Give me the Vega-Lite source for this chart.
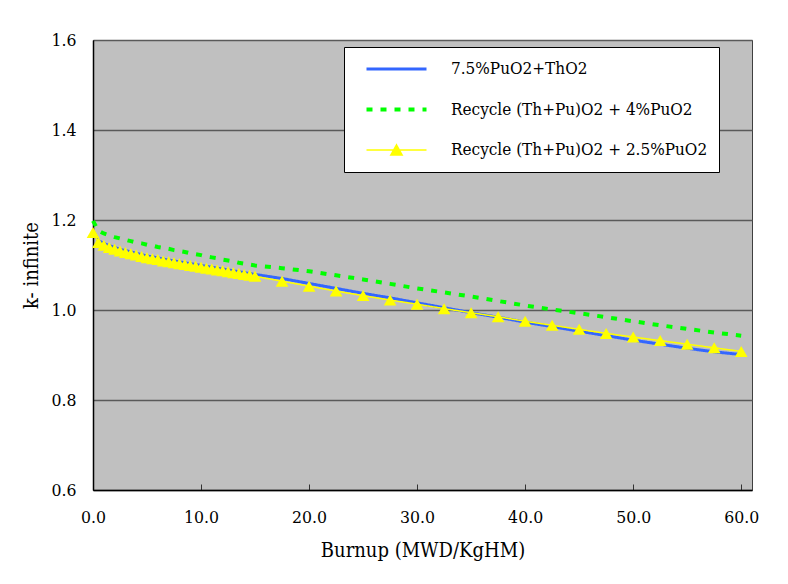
{
  "$schema": "https://vega.github.io/schema/vega-lite/v6.json",
  "width": 659,
  "height": 450,
  "autosize": {"type": "none"},
  "padding": {"left": 93, "top": 40, "right": 36, "bottom": 94},
  "background": "white",
  "config": {
    "view": {"fill": "#c0c0c0", "stroke": "#404040", "strokeWidth": 1},
    "axis": {
      "labelFont": "DejaVu Serif Condensed",
      "titleFont": "DejaVu Serif Condensed",
      "labelFontSize": 17.5,
      "labelColor": "black",
      "titleFontSize": 20,
      "titleFontWeight": "normal",
      "titleColor": "black",
      "domainColor": "black",
      "domainWidth": 1.5
    }
  },
  "datasets": {
    "kinf": [
      {"series": "7.5%PuO2+ThO2", "burnup": 0, "k": 1.176},
      {"series": "7.5%PuO2+ThO2", "burnup": 0.5, "k": 1.154},
      {"series": "7.5%PuO2+ThO2", "burnup": 1, "k": 1.148},
      {"series": "7.5%PuO2+ThO2", "burnup": 1.5, "k": 1.143},
      {"series": "7.5%PuO2+ThO2", "burnup": 2, "k": 1.139},
      {"series": "7.5%PuO2+ThO2", "burnup": 2.5, "k": 1.135},
      {"series": "7.5%PuO2+ThO2", "burnup": 3, "k": 1.132},
      {"series": "7.5%PuO2+ThO2", "burnup": 3.5, "k": 1.129},
      {"series": "7.5%PuO2+ThO2", "burnup": 4, "k": 1.126},
      {"series": "7.5%PuO2+ThO2", "burnup": 4.5, "k": 1.123},
      {"series": "7.5%PuO2+ThO2", "burnup": 5, "k": 1.120},
      {"series": "7.5%PuO2+ThO2", "burnup": 5.5, "k": 1.118},
      {"series": "7.5%PuO2+ThO2", "burnup": 6, "k": 1.116},
      {"series": "7.5%PuO2+ThO2", "burnup": 6.5, "k": 1.113},
      {"series": "7.5%PuO2+ThO2", "burnup": 7, "k": 1.111},
      {"series": "7.5%PuO2+ThO2", "burnup": 7.5, "k": 1.109},
      {"series": "7.5%PuO2+ThO2", "burnup": 8, "k": 1.107},
      {"series": "7.5%PuO2+ThO2", "burnup": 8.5, "k": 1.105},
      {"series": "7.5%PuO2+ThO2", "burnup": 9, "k": 1.103},
      {"series": "7.5%PuO2+ThO2", "burnup": 9.5, "k": 1.101},
      {"series": "7.5%PuO2+ThO2", "burnup": 10, "k": 1.099},
      {"series": "7.5%PuO2+ThO2", "burnup": 10.5, "k": 1.097},
      {"series": "7.5%PuO2+ThO2", "burnup": 11, "k": 1.095},
      {"series": "7.5%PuO2+ThO2", "burnup": 11.5, "k": 1.093},
      {"series": "7.5%PuO2+ThO2", "burnup": 12, "k": 1.091},
      {"series": "7.5%PuO2+ThO2", "burnup": 12.5, "k": 1.089},
      {"series": "7.5%PuO2+ThO2", "burnup": 13, "k": 1.087},
      {"series": "7.5%PuO2+ThO2", "burnup": 13.5, "k": 1.085},
      {"series": "7.5%PuO2+ThO2", "burnup": 14, "k": 1.083},
      {"series": "7.5%PuO2+ThO2", "burnup": 14.5, "k": 1.081},
      {"series": "7.5%PuO2+ThO2", "burnup": 15, "k": 1.079},
      {"series": "7.5%PuO2+ThO2", "burnup": 17.5, "k": 1.070},
      {"series": "7.5%PuO2+ThO2", "burnup": 20, "k": 1.059},
      {"series": "7.5%PuO2+ThO2", "burnup": 22.5, "k": 1.048},
      {"series": "7.5%PuO2+ThO2", "burnup": 25, "k": 1.037},
      {"series": "7.5%PuO2+ThO2", "burnup": 27.5, "k": 1.027},
      {"series": "7.5%PuO2+ThO2", "burnup": 30, "k": 1.016},
      {"series": "7.5%PuO2+ThO2", "burnup": 32.5, "k": 1.005},
      {"series": "7.5%PuO2+ThO2", "burnup": 35, "k": 0.994},
      {"series": "7.5%PuO2+ThO2", "burnup": 37.5, "k": 0.984},
      {"series": "7.5%PuO2+ThO2", "burnup": 40, "k": 0.973},
      {"series": "7.5%PuO2+ThO2", "burnup": 42.5, "k": 0.963},
      {"series": "7.5%PuO2+ThO2", "burnup": 45, "k": 0.953},
      {"series": "7.5%PuO2+ThO2", "burnup": 47.5, "k": 0.943},
      {"series": "7.5%PuO2+ThO2", "burnup": 50, "k": 0.933},
      {"series": "7.5%PuO2+ThO2", "burnup": 52.5, "k": 0.924},
      {"series": "7.5%PuO2+ThO2", "burnup": 55, "k": 0.915},
      {"series": "7.5%PuO2+ThO2", "burnup": 57.5, "k": 0.907},
      {"series": "7.5%PuO2+ThO2", "burnup": 60, "k": 0.901},

      {"series": "Recycle (Th+Pu)O2 + 4%PuO2", "burnup": 0, "k": 1.198},
      {"series": "Recycle (Th+Pu)O2 + 4%PuO2", "burnup": 0.5, "k": 1.176},
      {"series": "Recycle (Th+Pu)O2 + 4%PuO2", "burnup": 1, "k": 1.170},
      {"series": "Recycle (Th+Pu)O2 + 4%PuO2", "burnup": 1.5, "k": 1.166},
      {"series": "Recycle (Th+Pu)O2 + 4%PuO2", "burnup": 2, "k": 1.162},
      {"series": "Recycle (Th+Pu)O2 + 4%PuO2", "burnup": 2.5, "k": 1.159},
      {"series": "Recycle (Th+Pu)O2 + 4%PuO2", "burnup": 3, "k": 1.156},
      {"series": "Recycle (Th+Pu)O2 + 4%PuO2", "burnup": 3.5, "k": 1.153},
      {"series": "Recycle (Th+Pu)O2 + 4%PuO2", "burnup": 4, "k": 1.150},
      {"series": "Recycle (Th+Pu)O2 + 4%PuO2", "burnup": 4.5, "k": 1.148},
      {"series": "Recycle (Th+Pu)O2 + 4%PuO2", "burnup": 5, "k": 1.145},
      {"series": "Recycle (Th+Pu)O2 + 4%PuO2", "burnup": 5.5, "k": 1.143},
      {"series": "Recycle (Th+Pu)O2 + 4%PuO2", "burnup": 6, "k": 1.140},
      {"series": "Recycle (Th+Pu)O2 + 4%PuO2", "burnup": 6.5, "k": 1.138},
      {"series": "Recycle (Th+Pu)O2 + 4%PuO2", "burnup": 7, "k": 1.136},
      {"series": "Recycle (Th+Pu)O2 + 4%PuO2", "burnup": 7.5, "k": 1.133},
      {"series": "Recycle (Th+Pu)O2 + 4%PuO2", "burnup": 8, "k": 1.131},
      {"series": "Recycle (Th+Pu)O2 + 4%PuO2", "burnup": 8.5, "k": 1.129},
      {"series": "Recycle (Th+Pu)O2 + 4%PuO2", "burnup": 9, "k": 1.126},
      {"series": "Recycle (Th+Pu)O2 + 4%PuO2", "burnup": 9.5, "k": 1.124},
      {"series": "Recycle (Th+Pu)O2 + 4%PuO2", "burnup": 10, "k": 1.122},
      {"series": "Recycle (Th+Pu)O2 + 4%PuO2", "burnup": 10.5, "k": 1.119},
      {"series": "Recycle (Th+Pu)O2 + 4%PuO2", "burnup": 11, "k": 1.117},
      {"series": "Recycle (Th+Pu)O2 + 4%PuO2", "burnup": 11.5, "k": 1.115},
      {"series": "Recycle (Th+Pu)O2 + 4%PuO2", "burnup": 12, "k": 1.112},
      {"series": "Recycle (Th+Pu)O2 + 4%PuO2", "burnup": 12.5, "k": 1.110},
      {"series": "Recycle (Th+Pu)O2 + 4%PuO2", "burnup": 13, "k": 1.108},
      {"series": "Recycle (Th+Pu)O2 + 4%PuO2", "burnup": 13.5, "k": 1.105},
      {"series": "Recycle (Th+Pu)O2 + 4%PuO2", "burnup": 14, "k": 1.103},
      {"series": "Recycle (Th+Pu)O2 + 4%PuO2", "burnup": 14.5, "k": 1.101},
      {"series": "Recycle (Th+Pu)O2 + 4%PuO2", "burnup": 15, "k": 1.099},
      {"series": "Recycle (Th+Pu)O2 + 4%PuO2", "burnup": 17.5, "k": 1.093},
      {"series": "Recycle (Th+Pu)O2 + 4%PuO2", "burnup": 20, "k": 1.086},
      {"series": "Recycle (Th+Pu)O2 + 4%PuO2", "burnup": 22.5, "k": 1.077},
      {"series": "Recycle (Th+Pu)O2 + 4%PuO2", "burnup": 25, "k": 1.068},
      {"series": "Recycle (Th+Pu)O2 + 4%PuO2", "burnup": 27.5, "k": 1.058},
      {"series": "Recycle (Th+Pu)O2 + 4%PuO2", "burnup": 30, "k": 1.048},
      {"series": "Recycle (Th+Pu)O2 + 4%PuO2", "burnup": 32.5, "k": 1.039},
      {"series": "Recycle (Th+Pu)O2 + 4%PuO2", "burnup": 35, "k": 1.030},
      {"series": "Recycle (Th+Pu)O2 + 4%PuO2", "burnup": 37.5, "k": 1.020},
      {"series": "Recycle (Th+Pu)O2 + 4%PuO2", "burnup": 40, "k": 1.010},
      {"series": "Recycle (Th+Pu)O2 + 4%PuO2", "burnup": 42.5, "k": 1.001},
      {"series": "Recycle (Th+Pu)O2 + 4%PuO2", "burnup": 45, "k": 0.993},
      {"series": "Recycle (Th+Pu)O2 + 4%PuO2", "burnup": 47.5, "k": 0.984},
      {"series": "Recycle (Th+Pu)O2 + 4%PuO2", "burnup": 50, "k": 0.975},
      {"series": "Recycle (Th+Pu)O2 + 4%PuO2", "burnup": 52.5, "k": 0.966},
      {"series": "Recycle (Th+Pu)O2 + 4%PuO2", "burnup": 55, "k": 0.958},
      {"series": "Recycle (Th+Pu)O2 + 4%PuO2", "burnup": 57.5, "k": 0.950},
      {"series": "Recycle (Th+Pu)O2 + 4%PuO2", "burnup": 60, "k": 0.943},

      {"series": "Recycle (Th+Pu)O2 + 2.5%PuO2", "burnup": 0, "k": 1.172},
      {"series": "Recycle (Th+Pu)O2 + 2.5%PuO2", "burnup": 0.5, "k": 1.150},
      {"series": "Recycle (Th+Pu)O2 + 2.5%PuO2", "burnup": 1, "k": 1.144},
      {"series": "Recycle (Th+Pu)O2 + 2.5%PuO2", "burnup": 1.5, "k": 1.139},
      {"series": "Recycle (Th+Pu)O2 + 2.5%PuO2", "burnup": 2, "k": 1.135},
      {"series": "Recycle (Th+Pu)O2 + 2.5%PuO2", "burnup": 2.5, "k": 1.131},
      {"series": "Recycle (Th+Pu)O2 + 2.5%PuO2", "burnup": 3, "k": 1.128},
      {"series": "Recycle (Th+Pu)O2 + 2.5%PuO2", "burnup": 3.5, "k": 1.125},
      {"series": "Recycle (Th+Pu)O2 + 2.5%PuO2", "burnup": 4, "k": 1.122},
      {"series": "Recycle (Th+Pu)O2 + 2.5%PuO2", "burnup": 4.5, "k": 1.119},
      {"series": "Recycle (Th+Pu)O2 + 2.5%PuO2", "burnup": 5, "k": 1.116},
      {"series": "Recycle (Th+Pu)O2 + 2.5%PuO2", "burnup": 5.5, "k": 1.114},
      {"series": "Recycle (Th+Pu)O2 + 2.5%PuO2", "burnup": 6, "k": 1.112},
      {"series": "Recycle (Th+Pu)O2 + 2.5%PuO2", "burnup": 6.5, "k": 1.109},
      {"series": "Recycle (Th+Pu)O2 + 2.5%PuO2", "burnup": 7, "k": 1.107},
      {"series": "Recycle (Th+Pu)O2 + 2.5%PuO2", "burnup": 7.5, "k": 1.105},
      {"series": "Recycle (Th+Pu)O2 + 2.5%PuO2", "burnup": 8, "k": 1.103},
      {"series": "Recycle (Th+Pu)O2 + 2.5%PuO2", "burnup": 8.5, "k": 1.101},
      {"series": "Recycle (Th+Pu)O2 + 2.5%PuO2", "burnup": 9, "k": 1.099},
      {"series": "Recycle (Th+Pu)O2 + 2.5%PuO2", "burnup": 9.5, "k": 1.097},
      {"series": "Recycle (Th+Pu)O2 + 2.5%PuO2", "burnup": 10, "k": 1.095},
      {"series": "Recycle (Th+Pu)O2 + 2.5%PuO2", "burnup": 10.5, "k": 1.093},
      {"series": "Recycle (Th+Pu)O2 + 2.5%PuO2", "burnup": 11, "k": 1.091},
      {"series": "Recycle (Th+Pu)O2 + 2.5%PuO2", "burnup": 11.5, "k": 1.089},
      {"series": "Recycle (Th+Pu)O2 + 2.5%PuO2", "burnup": 12, "k": 1.087},
      {"series": "Recycle (Th+Pu)O2 + 2.5%PuO2", "burnup": 12.5, "k": 1.085},
      {"series": "Recycle (Th+Pu)O2 + 2.5%PuO2", "burnup": 13, "k": 1.083},
      {"series": "Recycle (Th+Pu)O2 + 2.5%PuO2", "burnup": 13.5, "k": 1.081},
      {"series": "Recycle (Th+Pu)O2 + 2.5%PuO2", "burnup": 14, "k": 1.079},
      {"series": "Recycle (Th+Pu)O2 + 2.5%PuO2", "burnup": 14.5, "k": 1.077},
      {"series": "Recycle (Th+Pu)O2 + 2.5%PuO2", "burnup": 15, "k": 1.075},
      {"series": "Recycle (Th+Pu)O2 + 2.5%PuO2", "burnup": 17.5, "k": 1.064},
      {"series": "Recycle (Th+Pu)O2 + 2.5%PuO2", "burnup": 20, "k": 1.053},
      {"series": "Recycle (Th+Pu)O2 + 2.5%PuO2", "burnup": 22.5, "k": 1.042},
      {"series": "Recycle (Th+Pu)O2 + 2.5%PuO2", "burnup": 25, "k": 1.032},
      {"series": "Recycle (Th+Pu)O2 + 2.5%PuO2", "burnup": 27.5, "k": 1.022},
      {"series": "Recycle (Th+Pu)O2 + 2.5%PuO2", "burnup": 30, "k": 1.013},
      {"series": "Recycle (Th+Pu)O2 + 2.5%PuO2", "burnup": 32.5, "k": 1.003},
      {"series": "Recycle (Th+Pu)O2 + 2.5%PuO2", "burnup": 35, "k": 0.994},
      {"series": "Recycle (Th+Pu)O2 + 2.5%PuO2", "burnup": 37.5, "k": 0.985},
      {"series": "Recycle (Th+Pu)O2 + 2.5%PuO2", "burnup": 40, "k": 0.975},
      {"series": "Recycle (Th+Pu)O2 + 2.5%PuO2", "burnup": 42.5, "k": 0.966},
      {"series": "Recycle (Th+Pu)O2 + 2.5%PuO2", "burnup": 45, "k": 0.957},
      {"series": "Recycle (Th+Pu)O2 + 2.5%PuO2", "burnup": 47.5, "k": 0.948},
      {"series": "Recycle (Th+Pu)O2 + 2.5%PuO2", "burnup": 50, "k": 0.940},
      {"series": "Recycle (Th+Pu)O2 + 2.5%PuO2", "burnup": 52.5, "k": 0.932},
      {"series": "Recycle (Th+Pu)O2 + 2.5%PuO2", "burnup": 55, "k": 0.924},
      {"series": "Recycle (Th+Pu)O2 + 2.5%PuO2", "burnup": 57.5, "k": 0.916},
      {"series": "Recycle (Th+Pu)O2 + 2.5%PuO2", "burnup": 60, "k": 0.908}
    ]
  },
  "data": {"name": "kinf"},
  "encoding": {
    "x": {
      "field": "burnup",
      "type": "quantitative",
      "scale": {"domain": [0, 61], "nice": false, "zero": false},
      "axis": {
        "title": "Burnup (MWD/KgHM)",
        "values": [0, 10, 20, 30, 40, 50, 60],
        "format": ".1f",
        "grid": false,
        "ticks": true,
        "tickSize": -6,
        "tickColor": "#333333",
        "tickWidth": 1,
        "labelPadding": 24,
        "labelFlush": false,
        "labelOverlap": false,
        "titlePadding": 15
      }
    },
    "y": {
      "field": "k",
      "type": "quantitative",
      "scale": {"domain": [0.6, 1.6], "nice": false, "zero": false},
      "axis": {
        "title": "k- infinite",
        "values": [0.6, 0.8, 1.0, 1.2, 1.4, 1.6],
        "format": ".1f",
        "grid": true,
        "gridColor": "#5a5a5a",
        "gridWidth": 1.5,
        "ticks": false,
        "labelPadding": 17,
        "titlePadding": 9
      }
    }
  },
  "layer": [
    {
      "mark": {"type": "line", "strokeCap": "butt"},
      "encoding": {
        "color": {
          "field": "series",
          "type": "nominal",
          "scale": {
            "domain": ["7.5%PuO2+ThO2", "Recycle (Th+Pu)O2 + 4%PuO2", "Recycle (Th+Pu)O2 + 2.5%PuO2"],
            "range": ["#3366ff", "#00ff00", "#ffff00"]
          },
          "legend": {
            "title": null,
            "orient": "none",
            "legendX": 251,
            "legendY": 7,
            "fillColor": "white",
            "strokeColor": "black",
            "padding": 11,
            "symbolType": "stroke",
            "symbolSize": 3600,
            "symbolOffset": 33,
            "clipHeight": 22,
            "rowPadding": 18.5,
            "labelOffset": 46,
            "labelFont": "DejaVu Serif Condensed",
            "labelFontSize": 17,
            "labelColor": "black",
            "labelLimit": 400,
            "labelExpr": "datum.label + '\u2002\u2002\u2002'",
            "encode": {
              "symbols": {
                "update": {
                  "shape": {"signal": "datum.value === 'Recycle (Th+Pu)O2 + 2.5%PuO2' ? 'M-1,0H1M0,-0.17L0.19,0.17L-0.19,0.17Z' : 'stroke'"},
                  "fill": {"signal": "datum.value === 'Recycle (Th+Pu)O2 + 2.5%PuO2' ? '#ffff00' : 'transparent'"},
                  "fillOpacity": {"value": 1},
                  "strokeWidth": {"signal": "datum.value === 'Recycle (Th+Pu)O2 + 2.5%PuO2' ? 1.5 : datum.value === '7.5%PuO2+ThO2' ? 3 : 4"}
                }
              }
            }
          }
        },
        "strokeDash": {
          "field": "series",
          "type": "nominal",
          "scale": {
            "domain": ["7.5%PuO2+ThO2", "Recycle (Th+Pu)O2 + 4%PuO2", "Recycle (Th+Pu)O2 + 2.5%PuO2"],
            "range": [[1, 0], [6, 8], [1, 0]]
          }
        },
        "strokeWidth": {
          "condition": [
            {"test": "datum.series === 'Recycle (Th+Pu)O2 + 2.5%PuO2'", "value": 1.5},
            {"test": "datum.series === '7.5%PuO2+ThO2'", "value": 3}
          ],
          "value": 4
        }
      }
    },
    {
      "transform": [{"filter": "datum.series === 'Recycle (Th+Pu)O2 + 2.5%PuO2'"}],
      "mark": {"type": "point", "shape": "triangle-up", "filled": true, "color": "#ffff00", "size": 160, "opacity": 1},
      "encoding": {}
    }
  ]
}
